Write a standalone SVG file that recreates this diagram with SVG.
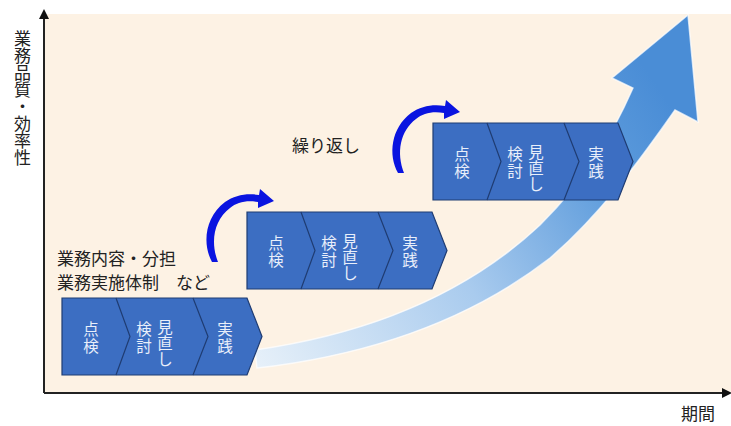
<svg xmlns="http://www.w3.org/2000/svg" width="731" height="426" viewBox="0 0 731 426">
<style>
.t{font-family:"Noto Sans CJK JP","Noto Sans CJK SC",sans-serif;}
.lab{font-size:17px;fill:#222;}
.ch{font-size:15.5px;fill:#e9effa;text-anchor:middle;}
.chev{fill:#3c6ec2;stroke:#1f3c72;stroke-width:1.2;}
.div{fill:none;stroke:#1f3c72;stroke-width:1.2;}
.loop{fill:#0a14e0;}
.vert{writing-mode:vertical-rl;text-orientation:upright;}
</style>
<defs>
<linearGradient id="bg" gradientUnits="userSpaceOnUse" x1="255" y1="360" x2="660" y2="90">
<stop offset="0" stop-color="#e6f0f9"/>
<stop offset="0.45" stop-color="#a9cbee"/>
<stop offset="0.8" stop-color="#5e9cdc"/>
<stop offset="1" stop-color="#4a8dd6"/>
</linearGradient>
<g id="chevset">
<path class="chev" d="M0,0 H185 L200,38.5 L185,77 H0 Z"/>
<path class="div" d="M54,0 L68,38.5 L54,77"/>
<path class="div" d="M131,0 L146,38.5 L131,77"/>
<text class="t ch"><tspan x="29" y="37">点</tspan><tspan x="29" y="54">検</tspan></text>
<text class="t ch"><tspan x="82" y="37">検</tspan><tspan x="82" y="54">討</tspan></text>
<text class="t ch"><tspan x="103" y="35">見</tspan><tspan x="103" y="51">直</tspan><tspan x="103" y="67">し</tspan></text>
<text class="t ch"><tspan x="163" y="37">実</tspan><tspan x="163" y="54">践</tspan></text>
</g>
<path id="loopshape" class="loop" d="M-35,50 C-45,32 -42,5 -22,-10 C-12,-17 0,-19 12,-17 L13,-23 L27,-11 L11,-4 L11,-10 C0,-12 -10,-10 -17,-4 C-33,8 -37,30 -29,50 Z"/>
</defs>
<rect x="0" y="0" width="731" height="426" fill="#ffffff"/>
<rect id="plot" x="45" y="14" width="686" height="378" fill="#fdf2e4"/>

<g id="growth-arrow">
<path d="M255,350 C360,335 460,300 540,225 C585,180 610,140 633,88 L612,78 L688,15 L698,122 L675,110 C640,160 600,215 550,258 C470,320 370,355 257,368 Z" fill="url(#bg)" stroke="#ffffff" stroke-opacity="0.7" stroke-width="1.5"/>
</g>

<g id="axes">
<line x1="44" y1="393" x2="44" y2="17" stroke="#222" stroke-width="2"/>
<polygon points="44,9 39,19 49,19" fill="#111"/>
<line x1="44" y1="393" x2="724" y2="393" stroke="#222" stroke-width="2"/>
<polygon points="732,393 722,388 722,398" fill="#111"/>
</g>

<g id="ylabel">
<text class="t lab vert" x="22.5" y="30" font-size="17">業務品質・効率性</text>
</g>
<g id="xlabel"><text class="t lab" x="681" y="420" font-size="17">期間</text></g>

<g id="stage1"><use href="#chevset" transform="translate(62,298)"/></g>
<g id="stage2"><use href="#chevset" transform="translate(247,212)"/></g>
<g id="stage3"><use href="#chevset" transform="translate(433,123)"/></g>

<g id="connectors">
<use href="#loopshape" transform="translate(247,212)"/>
<use href="#loopshape" transform="translate(433,123)"/>
</g>

<g id="note1">
<text class="t lab" x="57" y="265" font-size="16">業務内容・分担</text>
<text class="t lab" x="57" y="289" font-size="16">業務実施体制　など</text>
</g>
<g id="note2"><text class="t lab" x="292" y="152" font-size="16" fill="#333">繰り返し</text></g>
</svg>
